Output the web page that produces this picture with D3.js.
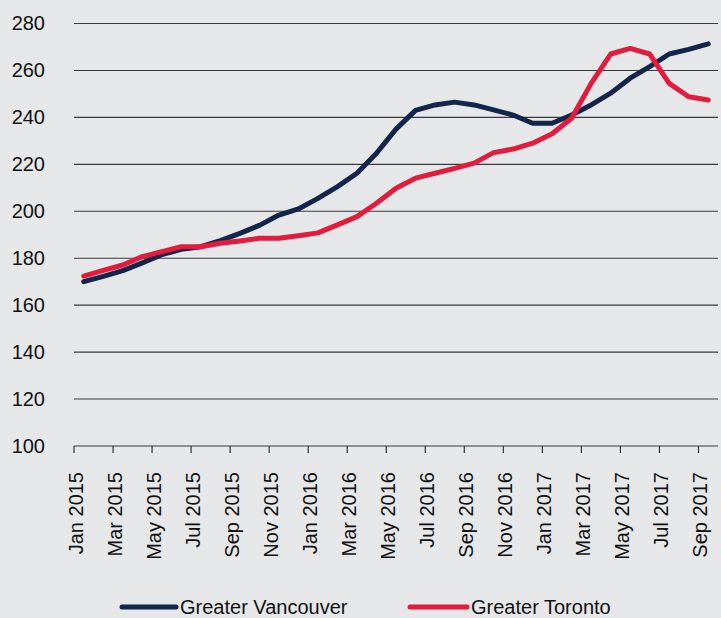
<!DOCTYPE html>
<html>
<head>
<meta charset="utf-8">
<script src="https://cdn.jsdelivr.net/npm/d3@7"></script>
<style>
  body { margin: 0; background: #e6e7e9; }
  svg { display: block; font-family: "Liberation Sans", Arial, sans-serif; }
</style>
</head>
<body>
<div id="graph"></div>
<script>
// data
var months = ["Jan 2015","Feb 2015","Mar 2015","Apr 2015","May 2015","Jun 2015","Jul 2015","Aug 2015","Sep 2015","Oct 2015","Nov 2015","Dec 2015",
              "Jan 2016","Feb 2016","Mar 2016","Apr 2016","May 2016","Jun 2016","Jul 2016","Aug 2016","Sep 2016","Oct 2016","Nov 2016","Dec 2016",
              "Jan 2017","Feb 2017","Mar 2017","Apr 2017","May 2017","Jun 2017","Jul 2017","Aug 2017","Sep 2017"];

var vancouver = [170.0, 172.3, 174.7, 178.0, 181.5, 183.8, 184.9, 187.5, 190.6, 194.0, 198.4, 201.0,
                 205.5, 210.5, 216.2, 224.7, 235.0, 243.0, 245.3, 246.5, 245.3, 243.2, 241.0, 237.5,
                 237.5, 241.0, 245.3, 250.3, 256.7, 261.6, 267.0, 269.0, 271.3];

var toronto = [172.4, 174.8, 177.1, 180.7, 182.8, 184.9, 184.9, 186.4, 187.3, 188.5, 188.5, 189.6,
               190.8, 194.2, 197.7, 203.4, 209.8, 214.1, 216.2, 218.3, 220.5, 225.0, 226.5, 229.0,
               233.0, 239.6, 254.5, 267.0, 269.4, 267.0, 254.5, 248.8, 247.4];

var yTicks = [100, 120, 140, 160, 180, 200, 220, 240, 260, 280];
var xLabels = months.filter(function(d, i) { return i % 2 === 0; });

var series = [
  {name: "Greater Vancouver", values: vancouver, color: "#13254b"},
  {name: "Greater Toronto", values: toronto, color: "#e31b3c"}
];

var width = 721, height = 618;
var plotLeft = 74, plotRight = 718, plotTop = 23.5, plotBottom = 446;

var svg = d3.select("#graph")
            .append("svg")
            .attr("width", width).attr("height", height);

svg.append("rect").attr("width", width).attr("height", height).attr("fill", "#e6e7e9");

var x = d3.scaleBand().domain(months).range([plotLeft, plotRight]).padding(0);
var y = d3.scaleLinear().domain([100, 280]).range([plotBottom, plotTop]);
var bw = x.bandwidth();

// gridlines
svg.append("g")
   .selectAll("line")
   .data(yTicks)
   .enter()
   .append("line")
   .attr("x1", plotLeft).attr("x2", plotRight)
   .attr("y1", function(d) { return y(d); })
   .attr("y2", function(d) { return y(d); })
   .attr("stroke", "#3a3a3a")
   .attr("stroke-width", 1.1);

// y axis labels
var yAxis = d3.axisLeft(y).tickValues(yTicks).tickSize(0).tickPadding(0);
var gy = svg.append("g")
   .attr("transform", "translate(45,0)")
   .call(yAxis);
gy.select(".domain").remove();
gy.selectAll("text").attr("font-size", 20).attr("fill", "#111").attr("font-family", "Liberation Sans, Arial, sans-serif");

// x axis: ticks at the start of each month
var xAxis = d3.axisBottom(x).tickValues(xLabels).tickSize(7).tickSizeOuter(0);
var gx = svg.append("g")
   .attr("transform", "translate(" + (-bw / 2) + "," + plotBottom + ")")
   .call(xAxis);
gx.select(".domain").remove();
gx.selectAll(".tick line").attr("stroke", "#333").attr("stroke-width", 1.2);
gx.selectAll("text")
   .attr("font-size", 20)
   .attr("fill", "#111")
   .attr("font-family", "Liberation Sans, Arial, sans-serif")
   .attr("text-anchor", "end")
   .attr("transform", "translate(2,26) rotate(-90)")
   .attr("x", 0).attr("y", 0).attr("dy", "0.35em");

// lines
var line = d3.line()
  .x(function(d, i) { return x(months[i]) + bw / 2; })
  .y(function(d) { return y(d); });

svg.selectAll(".series")
   .data(series)
   .enter()
   .append("path")
   .attr("class", "series")
   .attr("d", function(d) { return line(d.values); })
   .attr("fill", "none")
   .attr("stroke", function(d) { return d.color; })
   .attr("stroke-width", 5)
   .attr("stroke-linejoin", "round")
   .attr("stroke-linecap", "round");

// legend
var legendX = [122, 410];
var legend = svg.selectAll(".legend")
   .data(series)
   .enter()
   .append("g")
   .attr("class", "legend")
   .attr("transform", function(d, i) { return "translate(" + legendX[i] + ",607)"; });

legend.append("line")
   .attr("x1", 0).attr("x2", function(d, i) { return i === 0 ? 54 : 57; })
   .attr("y1", 0).attr("y2", 0)
   .attr("stroke", function(d) { return d.color; })
   .attr("stroke-width", 5)
   .attr("stroke-linecap", "round");

legend.append("text")
   .attr("x", function(d, i) { return i === 0 ? 58 : 61; })
   .attr("y", 7)
   .attr("font-size", 20)
   .attr("fill", "#111")
   .text(function(d) { return d.name; });
</script>
</body>
</html>
